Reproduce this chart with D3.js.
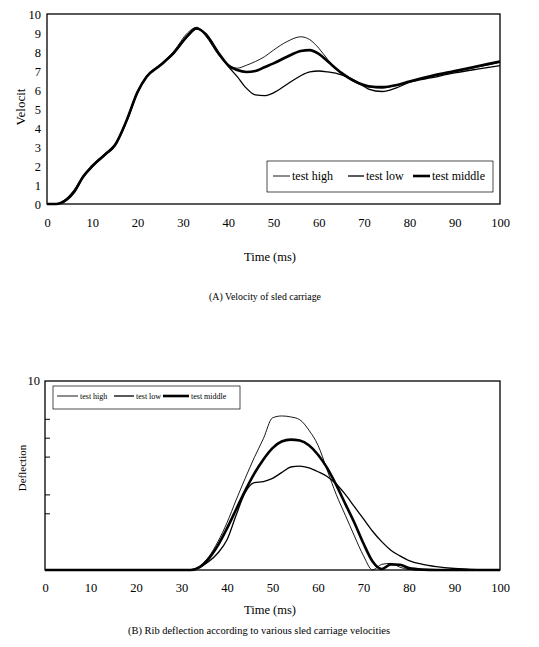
<!DOCTYPE html>
<html>
<head>
<meta charset="utf-8">
<script src="https://cdn.jsdelivr.net/npm/d3@7"></script>
<style>
    body { margin: 0; background: #fff; }
    text { font-family: "Liberation Serif", "DejaVu Serif", serif; fill: #000; }
</style>
</head>
<body>
<div id="chart"></div>
<script>
// Series names
let seriesNames = ["test high", "test low", "test middle"];

// (A) velocity of sled carriage
let velTime = [0, 2, 3, 6, 8, 10, 13, 15, 17.5, 20, 22, 25, 28, 31, 33, 35, 38, 40, 42, 44, 46, 48, 50, 53, 56, 58, 60, 62, 65, 68, 71, 74, 77, 80, 85, 90, 95, 100];
let velHigh = [0, 0, 0.08, 0.75, 1.5, 2.05, 2.7, 3.15, 4.4, 5.95, 6.75, 7.35, 8.05, 9.0, 9.3, 8.85, 7.8, 7.3, 7.15, 7.3, 7.5, 7.75, 8.1, 8.55, 8.8, 8.65, 8.2, 7.6, 6.9, 6.4, 6.15, 6.1, 6.25, 6.45, 6.7, 6.95, 7.2, 7.45];
let velLow = [0, 0, 0.05, 0.6, 1.4, 1.95, 2.6, 3.05, 4.3, 5.85, 6.7, 7.3, 7.95, 8.8, 9.2, 8.95, 7.9, 7.25, 6.7, 6.1, 5.74, 5.7, 5.85, 6.3, 6.75, 6.95, 7.0, 6.95, 6.8, 6.5, 6.05, 5.92, 6.1, 6.4, 6.65, 6.9, 7.1, 7.28];
let velMiddle = [0, 0, 0.05, 0.65, 1.45, 2.0, 2.65, 3.1, 4.35, 5.9, 6.7, 7.3, 7.95, 8.85, 9.25, 8.95, 7.9, 7.3, 7.05, 6.95, 7.0, 7.2, 7.4, 7.75, 8.05, 8.1, 7.9, 7.5, 6.9, 6.45, 6.2, 6.15, 6.25, 6.45, 6.75, 7.0, 7.25, 7.5];

// (B) rib deflection
let defTime = [0, 30, 32, 34, 36, 38, 40, 42, 44, 46, 48, 50, 52, 54, 56, 58, 60, 62, 64, 66, 68, 70, 72, 74, 76, 78, 80, 83, 86, 90, 95, 100];
let defHigh = [0, 0, 0, 0.2, 0.7, 1.5, 2.5, 3.7, 4.85, 5.95, 6.95, 8.05, 8.15, 8.1, 7.95, 7.4, 6.6, 5.3, 4.0, 2.9, 1.8, 0.75, 0, 0.3, 0.35, 0.15, 0.03, 0, 0, 0, 0, 0];
let defLow = [0, 0, 0, 0.15, 0.45, 0.9, 1.6, 2.9, 4.1, 4.62, 4.68, 4.85, 5.15, 5.45, 5.5, 5.4, 5.2, 4.95, 4.55, 4.0, 3.35, 2.7, 2.05, 1.5, 1.05, 0.75, 0.5, 0.3, 0.18, 0.08, 0.02, 0];
let defMiddle = [0, 0, 0, 0.15, 0.6, 1.3, 2.2, 3.2, 4.2, 5.1, 5.85, 6.45, 6.8, 6.9, 6.85, 6.6, 6.1, 5.4, 4.5, 3.5, 2.5, 1.4, 0.45, 0.05, 0.3, 0.28, 0.1, 0.02, 0, 0, 0, 0];

// Tick labels
let xTicks = [0, 10, 20, 30, 40, 50, 60, 70, 80, 90, 100];
let velTicks = [0, 1, 2, 3, 4, 5, 6, 7, 8, 9, 10];
let defTicks = [3, 4, 6, 7, 8];

let svg = d3.select("#chart")
    .append("svg")
    .attr("width", 539)
    .attr("height", 647);

// line widths for high / low / middle
let widths = [0.9, 1.3, 2.6];

function drawPanel(opt) {
    let x = d3.scaleLinear().domain([0, 100]).range([opt.left, opt.right]);
    let y = d3.scaleLinear().domain([0, 10]).range([opt.bottom, opt.top]);

    // frame
    svg.append("rect")
        .attr("x", opt.left)
        .attr("y", opt.top)
        .attr("width", opt.right - opt.left)
        .attr("height", opt.bottom - opt.top)
        .attr("fill", "none")
        .attr("stroke", "#000")
        .attr("stroke-width", 1.3);

    // X axis
    let gx = svg.append("g")
        .attr("transform", "translate(0," + opt.bottom + ")")
        .call(d3.axisBottom(x).tickValues(xTicks).tickSize(0).tickPadding(opt.xPad));
    gx.select(".domain").remove();
    gx.selectAll("text").style("font-size", "12.5px").style("font-family", "Liberation Serif");

    // Y axis
    let gy = svg.append("g")
        .attr("transform", "translate(" + opt.left + ",0)")
        .call(opt.yAxis(y));
    gy.select(".domain").remove();
    gy.selectAll("text").style("font-size", "12.5px").style("font-family", "Liberation Serif");
    gy.selectAll("line").attr("stroke", "#000").attr("stroke-width", 1);

    // lines
    let line = d3.line()
        .x(function (d) { return x(d[0]); })
        .y(function (d) { return y(d[1]); })
        .curve(d3.curveMonotoneX);

    opt.series.forEach(function (vals, i) {
        svg.append("path")
            .datum(d3.zip(opt.time, vals))
            .attr("fill", "none")
            .attr("stroke", "#000")
            .attr("stroke-width", widths[i])
            .attr("stroke-linejoin", "round")
            .attr("d", line);
    });

    // axis titles
    svg.append("text")
        .attr("x", 270)
        .attr("y", opt.bottom + opt.titleOffset)
        .attr("text-anchor", "middle")
        .style("font-size", "12.5px")
        .text("Time (ms)");

    svg.append("text")
        .attr("transform", "translate(" + opt.yLabelX + "," + opt.yLabelY + ") rotate(-90)")
        .attr("text-anchor", "middle")
        .attr("dy", "0.35em")
        .style("font-size", opt.yLabelSize)
        .text(opt.yLabel);

    svg.append("text")
        .attr("x", opt.captionX)
        .attr("y", opt.captionY)
        .attr("text-anchor", "middle")
        .attr("textLength", opt.captionLen)
        .attr("lengthAdjust", "spacingAndGlyphs")
        .style("font-size", "10px")
        .text(opt.caption);

    // legend
    let lg = opt.legend;
    svg.append("rect")
        .attr("x", lg.x0)
        .attr("y", lg.y0)
        .attr("width", lg.x1 - lg.x0)
        .attr("height", lg.y1 - lg.y0)
        .attr("fill", "none")
        .attr("stroke", "#000")
        .attr("stroke-width", 0.7);

    seriesNames.forEach(function (name, i) {
        svg.append("line")
            .attr("x1", lg.samples[i][0])
            .attr("x2", lg.samples[i][1])
            .attr("y1", lg.cy)
            .attr("y2", lg.cy)
            .attr("stroke", "#000")
            .attr("stroke-width", widths[i]);
        svg.append("text")
            .attr("x", lg.samples[i][1] + 2)
            .attr("y", lg.cy)
            .attr("dy", "0.32em")
            .style("font-size", lg.size)
            .text(name);
    });
}

// (A) Velocity panel
drawPanel({
    left: 47, right: 500, top: 14, bottom: 204,
    xPad: 14,
    yAxis: function (y) { return d3.axisLeft(y).tickValues(velTicks).tickSize(0).tickPadding(6); },
    time: velTime,
    series: [velHigh, velLow, velMiddle],
    titleOffset: 57,
    yLabel: "Velocit", yLabelX: 20, yLabelY: 107, yLabelSize: "13px",
    caption: "(A) Velocity of sled carriage", captionX: 265, captionY: 300, captionLen: 112,
    legend: {
        x0: 267, x1: 493, y0: 161, y1: 192, cy: 176, size: "12px",
        samples: [[273, 290], [348, 364], [413, 430]]
    }
});

// (B) Deflection panel
drawPanel({
    left: 45, right: 500, top: 381, bottom: 570,
    xPad: 13,
    yAxis: function (y) { return d3.axisRight(y).tickValues(defTicks).tickSize(5).tickFormat(""); },
    time: defTime,
    series: [defHigh, defLow, defMiddle],
    titleOffset: 44,
    yLabel: "Deflection", yLabelX: 22, yLabelY: 468, yLabelSize: "11px",
    caption: "(B) Rib deflection according to various sled carriage velocities", captionX: 259, captionY: 634, captionLen: 262,
    legend: {
        x0: 53, x1: 240, y0: 386, y1: 409, cy: 396, size: "8px",
        samples: [[57, 78], [114, 134], [163, 189]]
    }
});

// top label of the deflection axis
svg.append("text")
    .attr("x", 40)
    .attr("y", 381)
    .attr("dy", "0.35em")
    .attr("text-anchor", "end")
    .style("font-size", "12.5px")
    .text("10");
</script>
</body>
</html>
